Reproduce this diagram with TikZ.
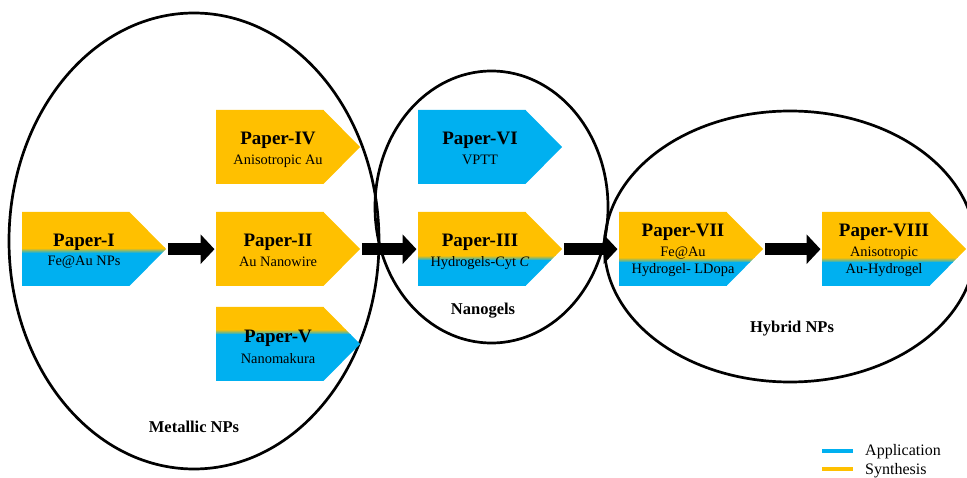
\documentclass[tikz,border=0pt]{standalone}
\usepackage{fontspec}
\setmainfont{Liberation Serif}
\usetikzlibrary{arrows.meta}
\definecolor{syn}{HTML}{FFC000}
\definecolor{app}{HTML}{00B0F0}
\tikzset{
  boxarea/.style={inner sep=0, minimum width=144pt, minimum height=74pt},
  ttl/.style={font=\fontsize{19}{22}\selectfont\bfseries, inner sep=0, anchor=base},
  subt/.style={font=\fontsize{14.4}{17}\selectfont, inner sep=0, anchor=base},
  grp/.style={font=\fontsize{16.5}{19}\selectfont\bfseries, inner sep=0, anchor=base},
  legtxt/.style={font=\fontsize{16}{19}\selectfont, inner sep=0, anchor=base west},
  ring/.style={draw=black, line width=2.7pt},
  blockarrow/.style={line width=12.5pt, shorten <=1.5pt, shorten >=1.5pt, -{Triangle[length=14pt,width=29pt]}},
  legline/.style={line width=4.5pt}
}
\newcommand\paperbox[4]{%
  \begin{scope}
    \clip (#2,#3) -- ++(107.5,0) -- ++(36.5,37) -- ++(-36.5,37) -- ++(-107.5,0) -- cycle;
    \fill[syn] (#2-1,#3-120) rectangle (#2+150,#3+#4-2.4);
    \shade[top color=syn,bottom color=app] (#2-1,#3+#4-2.5) rectangle (#2+150,#3+#4+2.5);
    \fill[app] (#2-1,#3+#4+2.4) rectangle (#2+150,#3+220);
  \end{scope}
  \node[boxarea, anchor=north west] (#1) at (#2,#3) {};
}
\begin{document}
\begin{tikzpicture}[x=1pt,y=-1pt]
\useasboundingbox (0,0) rectangle (967,478);
\clip (0,0) rectangle (967,478);

% group ellipses
\draw[ring] (194,241) ellipse [x radius=185, y radius=228];
\draw[ring] (491.5,207) ellipse [x radius=116.5, y radius=136];
\draw[ring] (790,246.5) ellipse [x radius=185.5, y radius=135.5];

% paper boxes
\paperbox{bI}{22}{212}{38.5}
\paperbox{bII}{216}{212}{200}
\paperbox{bIV}{216}{110}{200}
\paperbox{bV}{216}{307}{25}
\paperbox{bVI}{418}{110}{-200}
\paperbox{bIII}{418}{212}{46}
\paperbox{bVII}{619}{212}{48}
\paperbox{bVIII}{822}{212}{48}

% texts
\node[ttl] (tI) at (84,247) {Paper-I};
\node[subt] (sI) at (84,266) {Fe@Au NPs};
\node[ttl] (tII) at (278,247) {Paper-II};
\node[subt] (sII) at (278,267) {Au Nanowire};
\node[ttl] (tIV) at (278,145) {Paper-IV};
\node[subt] (sIV) at (278,165) {Anisotropic Au};
\node[ttl] (tV) at (278,343) {Paper-V};
\node[subt] (sV) at (278,363) {Nanomakura};
\node[ttl] (tVI) at (480,145) {Paper-VI};
\node[subt] (sVI) at (480,165) {VPTT};
\node[ttl] (tIII) at (480,247) {Paper-III};
\node[subt] (sIII) at (480,267) {Hydrogels-Cyt \textit{C}};
\node[ttl] (tVII) at (683,237) {Paper-VII};
\node[subt] (sVIIa) at (683,257) {Fe@Au};
\node[subt] (sVIIb) at (683,274) {Hydrogel- LDopa};
\node[ttl] (tVIII) at (884,237) {Paper-VIII};
\node[subt] (sVIIIa) at (884,257) {Anisotropic};
\node[subt] (sVIIIb) at (884,274) {Au-Hydrogel};

% connectors
\draw[blockarrow] (bI.east) -- (bII.west);
\draw[blockarrow] (bII.east) -- (bIII.west);
\draw[blockarrow] (bIII.east) -- (bVII.west);
\draw[blockarrow] (bVII.east) -- (bVIII.west);

% group labels
\node[grp] (gMetal) at (194,432) {Metallic NPs};
\node[grp] (gNano) at (483,315) {Nanogels};
\node[grp] (gHybrid) at (792,333) {Hybrid NPs};

% legend
\coordinate (la1) at (822,451);
\coordinate (la2) at (853,451);
\coordinate (ls1) at (822,469);
\coordinate (ls2) at (853,469);
\draw[legline, app] (la1) -- (la2);
\draw[legline, syn] (ls1) -- (ls2);
\node[legtxt] (lApp) at (865,455) {Application};
\node[legtxt] (lSyn) at (865,474) {Synthesis};
\end{tikzpicture}
\end{document}
